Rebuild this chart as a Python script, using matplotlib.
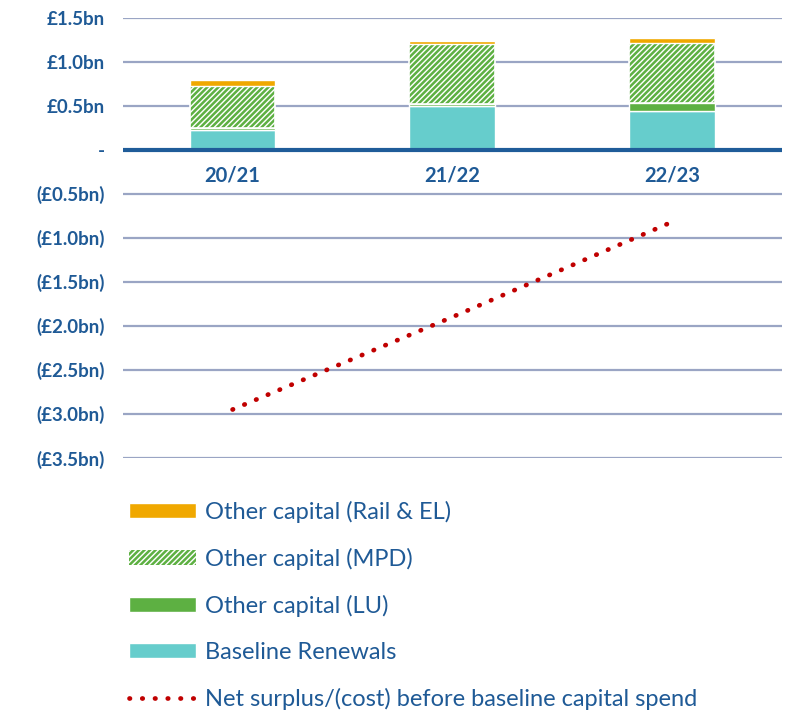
import matplotlib.pyplot as plt
import matplotlib.patches as mpatches
from matplotlib.lines import Line2D
import numpy as np

plt.rcParams['font.family'] = ['Lato', 'DejaVu Sans']
plt.rcParams['hatch.linewidth'] = 1.8

years = ['20/21', '21/22', '22/23']
baseline = [0.23, 0.50, 0.44]
other_lu = [0.02, 0.02, 0.09]
other_mpd = [0.47, 0.68, 0.68]
other_rail = [0.07, 0.04, 0.06]
net_surplus = [-2.95, -1.90, -0.82]

yticks = [1.5, 1.0, 0.5, 0, -0.5, -1.0, -1.5, -2.0, -2.5, -3.0, -3.5]
ylabels = ['£1.5bn', '£1.0bn', '£0.5bn', '-', '(£0.5bn)', '(£1.0bn)', '(£1.5bn)',
           '(£2.0bn)', '(£2.5bn)', '(£3.0bn)', '(£3.5bn)']

txt = '#1f5a96'
c_rail = '#f0a800'
c_green = '#5db042'
c_base = '#66cdcc'
c_line = '#c00000'
dots = (0, (0.1, 2.6))

fig = plt.figure(figsize=(7.92, 7.10), dpi=100)
ax = fig.add_axes([0.155, 0.355, 0.832, 0.62])

x = np.arange(len(years))
w = 0.39
b0 = np.array(baseline)
b1 = b0 + np.array(other_lu)
b2 = b1 + np.array(other_mpd)

ax.bar(x, baseline, w, color=c_base, edgecolor='white', linewidth=1, zorder=3)
ax.bar(x, other_lu, w, bottom=b0, color=c_green, edgecolor='white', linewidth=1, zorder=3)
ax.bar(x, other_mpd, w, bottom=b1, color='white', edgecolor=c_green, hatch='//////', linewidth=0, zorder=3)
ax.bar(x, other_mpd, w, bottom=b1, fill=False, edgecolor='white', linewidth=1.2, zorder=3)
ax.bar(x, other_rail, w, bottom=b2, color=c_rail, edgecolor='white', linewidth=1, zorder=3)

ax.plot(x, net_surplus, color=c_line, linewidth=3.4, linestyle=dots,
        dash_capstyle='round', zorder=4)

ax.set_xlim(-0.5, 2.5)
ax.set_ylim(-3.5, 1.5)
ax.set_yticks(yticks)
ax.set_yticklabels(ylabels, fontsize=13.5, fontweight='bold', color=txt)
ax.set_xticks([])
ax.tick_params(axis='y', length=0, pad=13)
for s in ax.spines.values():
    s.set_visible(False)
ax.grid(axis='y', color='#9aa5c4', linewidth=1.6, zorder=1)
ax.axhline(0, color='#1f5c99', linewidth=3, zorder=5)

for xi, lab in zip(x, years):
    ax.text(xi, -0.29, lab, ha='center', va='center', fontsize=14.5,
            fontweight='bold', color=txt)

handles = [
    mpatches.Patch(facecolor=c_rail, edgecolor='white'),
    mpatches.Patch(facecolor='white', edgecolor=c_green, hatch='//////', linewidth=0),
    mpatches.Patch(facecolor=c_green, edgecolor='white'),
    mpatches.Patch(facecolor=c_base, edgecolor='white'),
    Line2D([0], [0], color=c_line, linewidth=3.4, linestyle=dots,
           dash_capstyle='round'),
]
labels = ['Other capital (Rail & EL)', 'Other capital (MPD)', 'Other capital (LU)',
          'Baseline Renewals', 'Net surplus/(cost) before baseline capital spend']
leg = fig.legend(handles, labels, loc='upper left', bbox_to_anchor=(0.136, 0.325),
                 frameon=False, fontsize=17, handlelength=2.85, handleheight=0.6,
                 labelspacing=1.06, handletextpad=0.35)
for t in leg.get_texts():
    t.set_color(txt)

fig.savefig('out.png', dpi=100)
